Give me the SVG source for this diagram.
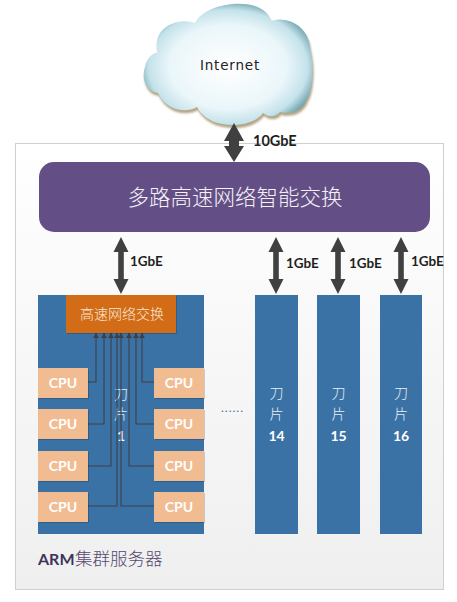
<svg xmlns="http://www.w3.org/2000/svg" width="457" height="602" viewBox="0 0 457 602">
<style>
.blade{fill:#3b72a6}
.cpu{fill:#f2bc92;filter:url(#sh)}
.cpu-t{font:700 14px Lato,"Liberation Sans",sans-serif;fill:#fff;text-anchor:middle}
.cn{font-family:"Noto Sans CJK SC",sans-serif;font-weight:300;text-anchor:middle}
.num{font:700 14px Lato,"Liberation Sans",sans-serif;fill:#fff;text-anchor:middle}
.gbe{font:700 13.500px Lato,"Liberation Sans",sans-serif;fill:#1f1f1f}
.dbl{fill:#404040}
.wire{fill:none;stroke:#3f3f46;stroke-width:1.1;marker-end:url(#tip)}
</style>
<defs>
<linearGradient id="bg" x1="0" y1="0" x2="0" y2="1"><stop offset="0" stop-color="#ffffff"/><stop offset="1" stop-color="#efefef"/></linearGradient>
<radialGradient id="cl" cx="0.5" cy="0.52" r="0.56"><stop offset="0" stop-color="#ffffff"/><stop offset="0.62" stop-color="#eaf6fa"/><stop offset="0.84" stop-color="#c4e2ea"/><stop offset="1" stop-color="#5f97a5"/></radialGradient>
<filter id="sh" x="-10%" y="-10%" width="120%" height="125%"><feDropShadow dx="1" dy="1" stdDeviation="0.6" flood-color="#000" flood-opacity="0.18"/></filter>
<filter id="bl" x="-10%" y="-10%" width="120%" height="120%"><feGaussianBlur stdDeviation="1"/></filter>
<marker id="tip" markerUnits="userSpaceOnUse" markerWidth="6" markerHeight="6" refX="5" refY="3" orient="auto"><path d="M0 0L5 3L0 6Z" fill="#3f3f46"/></marker>
<path id="arr" d="M0 0L7.500 15H2.800V42H7.500L0 57L-7.500 42H-2.800V15H-7.500Z"/>
<path id="cloudp" d="M157 42C158 27 178 17 195 23C203 7 235 0 255 6C264 9 269 14 271 21C288 15 309 27 310 48C315 68 312 92 307 99C303 110 292 115 280 112C276 118 268 117 263 113C255 124 236 127 222 124C210 122 201 115 197 107C185 114 166 110 158 93C146 92 141 78 145 67C147 58 152 53 159 52C157 49 156 45 157 42Z"/>
</defs>
<rect id="bg-panel" x="15.500" y="143.500" width="428" height="446" fill="url(#bg)" stroke="#cfcfcf"/>
<g id="cloud">
<use href="#cloudp" x="1" y="3" fill="#b3a584" filter="url(#bl)"/>
<use href="#cloudp" fill="url(#cl)"/>
<text x="230" y="70" text-anchor="middle" font-family="'DejaVu Sans',sans-serif" font-size="13.500" letter-spacing="0.8" fill="#222">Internet</text>
</g>
<g id="switch">
<rect x="39" y="162" width="391" height="70" rx="15" fill="#634f85"/>
<text x="235" y="205" class="cn" font-size="21.500" fill="#f4f1f7">多路高速网络智能交换</text>
</g>
<g id="blade-1">
<rect class="blade" x="38" y="295" width="166" height="239"/>
<text x="121" y="399" class="cn" font-size="14" fill="#e8f0f7">刀</text>
<text x="121" y="419" class="cn" font-size="14" fill="#e8f0f7">片</text>
<text x="121" y="441" class="num">1</text>
</g>
<g id="blade-14"><rect class="blade" x="255" y="295" width="43" height="239"/>
<text x="276.500" y="398" class="cn" font-size="14" fill="#e8f0f7">刀</text><text x="276.500" y="419" class="cn" font-size="14" fill="#e8f0f7">片</text><text x="276.500" y="441" class="num">14</text></g>
<g id="blade-15"><rect class="blade" x="317" y="295" width="43" height="239"/>
<text x="338.500" y="398" class="cn" font-size="14" fill="#e8f0f7">刀</text><text x="338.500" y="419" class="cn" font-size="14" fill="#e8f0f7">片</text><text x="338.500" y="441" class="num">15</text></g>
<g id="blade-16"><rect class="blade" x="380" y="295" width="42" height="239"/>
<text x="401" y="398" class="cn" font-size="14" fill="#e8f0f7">刀</text><text x="401" y="419" class="cn" font-size="14" fill="#e8f0f7">片</text><text x="401" y="441" class="num">16</text></g>
<g id="connectors">
<path class="wire" d="M88 382H96V333"/>
<path class="wire" d="M88 424H104V333"/>
<path class="wire" d="M88 466H111V333"/>
<path class="wire" d="M88 506H117V333"/>
<path class="wire" d="M154 382H142V333"/>
<path class="wire" d="M154 424H136V333"/>
<path class="wire" d="M154 466H129V333"/>
<path class="wire" d="M154 506H121V333"/>
<path class="dbl" d="M234 123L244 141H239V146H244L234 162L224 146H229V141H224Z"/>
<use href="#arr" class="dbl" x="121" y="237"/>
<use href="#arr" class="dbl" x="276" y="237"/>
<use href="#arr" class="dbl" x="338" y="237"/>
<use href="#arr" class="dbl" x="401" y="237"/>
</g>
<g id="switch-local">
<rect x="66" y="295" width="110" height="38" fill="#d36c17" filter="url(#sh)"/>
<text x="122" y="319" class="cn" font-size="14" fill="#f8e8da">高速网络交换</text>
</g>
<g id="cpu-l1"><rect class="cpu" x="38" y="368" width="50" height="30"/><text class="cpu-t" x="63" y="388">CPU</text></g>
<g id="cpu-l2"><rect class="cpu" x="38" y="409" width="50" height="30"/><text class="cpu-t" x="63" y="429">CPU</text></g>
<g id="cpu-l3"><rect class="cpu" x="38" y="451" width="50" height="30"/><text class="cpu-t" x="63" y="471">CPU</text></g>
<g id="cpu-l4"><rect class="cpu" x="38" y="492" width="50" height="30"/><text class="cpu-t" x="63" y="512">CPU</text></g>
<g id="cpu-r1"><rect class="cpu" x="154" y="368" width="50" height="30"/><text class="cpu-t" x="179" y="388">CPU</text></g>
<g id="cpu-r2"><rect class="cpu" x="154" y="409" width="50" height="30"/><text class="cpu-t" x="179" y="429">CPU</text></g>
<g id="cpu-r3"><rect class="cpu" x="154" y="451" width="50" height="30"/><text class="cpu-t" x="179" y="471">CPU</text></g>
<g id="cpu-r4"><rect class="cpu" x="154" y="492" width="50" height="30"/><text class="cpu-t" x="179" y="512">CPU</text></g>
<g id="labels">
<text x="253" y="146" font-family="Lato,sans-serif" font-weight="700" font-size="14.500" fill="#1f1f1f">10GbE</text>
<text class="gbe" x="130" y="266">1GbE</text>
<text class="gbe" x="286" y="268">1GbE</text>
<text class="gbe" x="349" y="268">1GbE</text>
<text class="gbe" x="411" y="266">1GbE</text>
<text x="221" y="412" font-family="Lato,sans-serif" font-size="12" letter-spacing="1" fill="#3b72a6">......</text>
<text x="38" y="565" font-family="Lato,sans-serif" font-weight="700" font-size="16" fill="#3f3558">ARM</text>
<text x="75" y="565" font-family="'Noto Sans CJK SC',sans-serif" font-weight="300" font-size="17.500" fill="#55496e">集群服务器</text>
</g>
</svg>
